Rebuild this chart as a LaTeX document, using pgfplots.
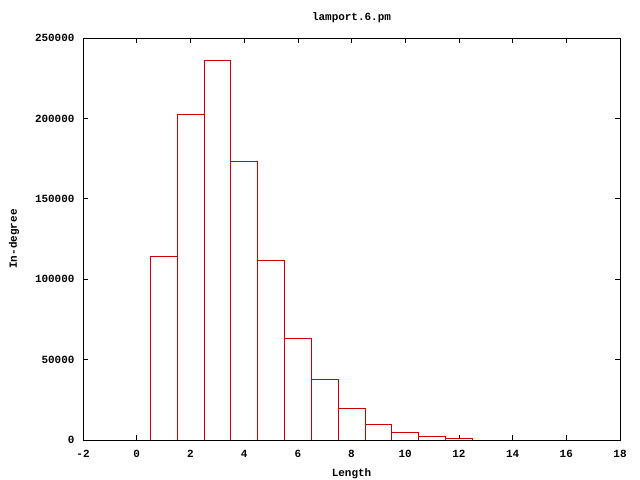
\documentclass[border=0pt]{standalone}
\usepackage{fontspec}
\setmainfont{Liberation Mono}
\usepackage{pgfplots}
\pgfplotsset{compat=1.18}
\begin{document}
\begin{tikzpicture}
\path[use as bounding box] (0,0) rectangle (640bp,480bp);
\begin{axis}[
  at={(83bp,40bp)}, anchor=south west,
  scale only axis, width=537bp, height=402bp,
  xmin=-2, xmax=18, ymin=0, ymax=250000,
  xtick={-2,0,...,18}, ytick={0,50000,100000,150000,200000,250000},
  xticklabels={-2,0,2,4,6,8,10,12,14,16,18},
  yticklabels={0,50000,100000,150000,200000,250000},
  scaled ticks=false,
  tick align=inside, major tick length=5bp,
  tick style={black, line width=0.6pt},
  axis line style={black, line width=0.8pt},
  every tick label/.append style={font=\bfseries\fontsize{11}{12}\selectfont},
  xticklabel style={yshift=-7bp},
  yticklabel style={xshift=-5bp},
  every axis title shift=0pt,
  title={lamport.6.pm},
  title style={font=\bfseries\fontsize{11}{12}\selectfont, at={(axis description cs:0.5,1.0498)}, anchor=center},
  xlabel={Length}, ylabel={In-degree},
  label style={font=\bfseries\fontsize{11}{12}\selectfont},
  xlabel style={at={(axis description cs:0.5,-0.0846)}, anchor=center},
  ylabel style={at={(axis description cs:-0.1285,0.5)}, anchor=center},
]
\addplot[ybar, bar width=1, draw=red!80!black, fill=white, line width=0.6pt] coordinates {
(1,114000) (2,202500) (3,236000) (4,173500) (5,112000) (6,63000)
(7,37500) (8,20000) (9,10000) (10,5000) (11,2500) (12,800)
};
\end{axis}
\end{tikzpicture}
\end{document}
